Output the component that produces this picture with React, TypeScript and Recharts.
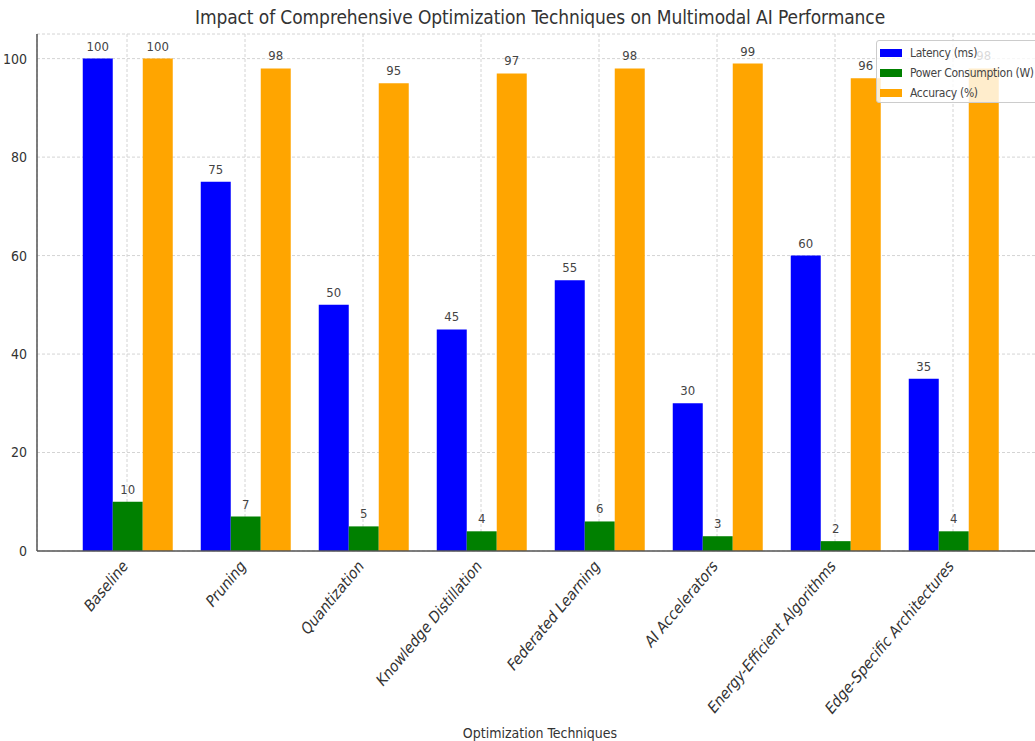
import React from 'react';
import { BarChart, Bar, XAxis, YAxis, CartesianGrid, LabelList } from 'recharts';

const categories = [
  'Baseline',
  'Pruning',
  'Quantization',
  'Knowledge Distillation',
  'Federated Learning',
  'AI Accelerators',
  'Energy-Efficient Algorithms',
  'Edge-Specific Architectures',
];
const latency = [100, 75, 50, 45, 55, 30, 60, 35];
const power = [10, 7, 5, 4, 6, 3, 2, 4];
const accuracy = [100, 98, 95, 97, 98, 99, 96, 98];
const yTicks = [0, 20, 40, 60, 80, 100];

const seriesNames = ['Latency (ms)', 'Power Consumption (W)', 'Accuracy (%)'];
const seriesColors = ['#0000ff', '#008000', '#ffa500'];

const data = categories.map((c, i) => ({
  name: c,
  latency: latency[i],
  power: power[i],
  accuracy: accuracy[i],
}));

const FONT = "'DejaVu Sans', sans-serif";
const textStyle: React.CSSProperties = { fontFamily: FONT, fontStretch: 'condensed' };

const XTick = (props: any) => {
  const { x, y, payload } = props;
  return (
    <g transform={`translate(${x - 2},${y + 4}) scale(0.83,1)`}>
      <text
        transform="rotate(-45)"
        textAnchor="end"
        dy="0.35em"
        fill="#333"
        fontSize={17}
        style={{ fontFamily: FONT }}
      >
        {payload.value}
      </text>
    </g>
  );
};

export default function App() {
  return (
    <div
      style={{
        position: 'absolute',
        left: 0,
        top: 0,
        width: 1035,
        height: 741,
        overflow: 'hidden',
        background: '#fff',
        fontFamily: FONT,
        fontStretch: 'condensed',
      }}
    >
      <div
        style={{
          position: 'absolute',
          left: 0,
          width: 1080,
          top: 6,
          textAlign: 'center',
          fontSize: 19,
          color: '#333',
          letterSpacing: -0.1,
          ...textStyle,
        }}
      >
        Impact of Comprehensive Optimization Techniques on Multimodal AI Performance
      </div>
      <BarChart
        width={1060}
        height={741}
        data={data}
        margin={{ top: 34, right: 17, left: 0, bottom: 0 }}
        barCategoryGap="12.5%"
        barGap={0}
        style={textStyle}
      >
        <XAxis
          dataKey="name"
          height={190}
          padding={{ left: 31, right: 31 }}
          tick={<XTick />}
          tickLine={false}
          axisLine={{ stroke: '#555', strokeWidth: 1.5 }}
          interval={0}
          label={{
            value: 'Optimization Techniques',
            position: 'insideBottom',
            offset: 3,
            fill: '#333',
            fontSize: 14,
            style: textStyle,
          }}
        />
        <YAxis
          width={37}
          domain={[0, 105]}
          ticks={yTicks}
          tickLine={false}
          axisLine={{ stroke: '#555', strokeWidth: 1.5 }}
          tick={{ fill: '#333', fontSize: 14, style: textStyle }}
          tickMargin={4}
        />
        <Bar dataKey="latency" fill={seriesColors[0]} isAnimationActive={false}>
          <LabelList dataKey="latency" position="top" offset={8} fill="#444" fontSize={13} style={textStyle} />
        </Bar>
        <Bar dataKey="power" fill={seriesColors[1]} isAnimationActive={false}>
          <LabelList dataKey="power" position="top" offset={8} fill="#444" fontSize={13} style={textStyle} />
        </Bar>
        <Bar dataKey="accuracy" fill={seriesColors[2]} isAnimationActive={false}>
          <LabelList dataKey="accuracy" position="top" offset={8} fill="#444" fontSize={13} style={textStyle} />
        </Bar>
        <CartesianGrid stroke="#d4d4d4" strokeDasharray="3 2" />
      </BarChart>
      <div
        style={{
          position: 'absolute',
          left: 876,
          top: 40,
          width: 200,
          height: 63,
          background: 'rgba(255,255,255,0.8)',
          border: '1px solid #ccc',
          borderRadius: 3,
          boxSizing: 'border-box',
          padding: '2px 0 0 3px',
        }}
      >
        {seriesNames.map((n, i) => (
          <div key={n} style={{ display: 'flex', alignItems: 'center', height: 20, whiteSpace: 'nowrap' }}>
            <div style={{ width: 22, height: 8, background: seriesColors[i], marginRight: 8, flexShrink: 0 }} />
            <span style={{ fontSize: 12, color: '#444', letterSpacing: -0.3, ...textStyle }}>{n}</span>
          </div>
        ))}
      </div>
    </div>
  );
}
